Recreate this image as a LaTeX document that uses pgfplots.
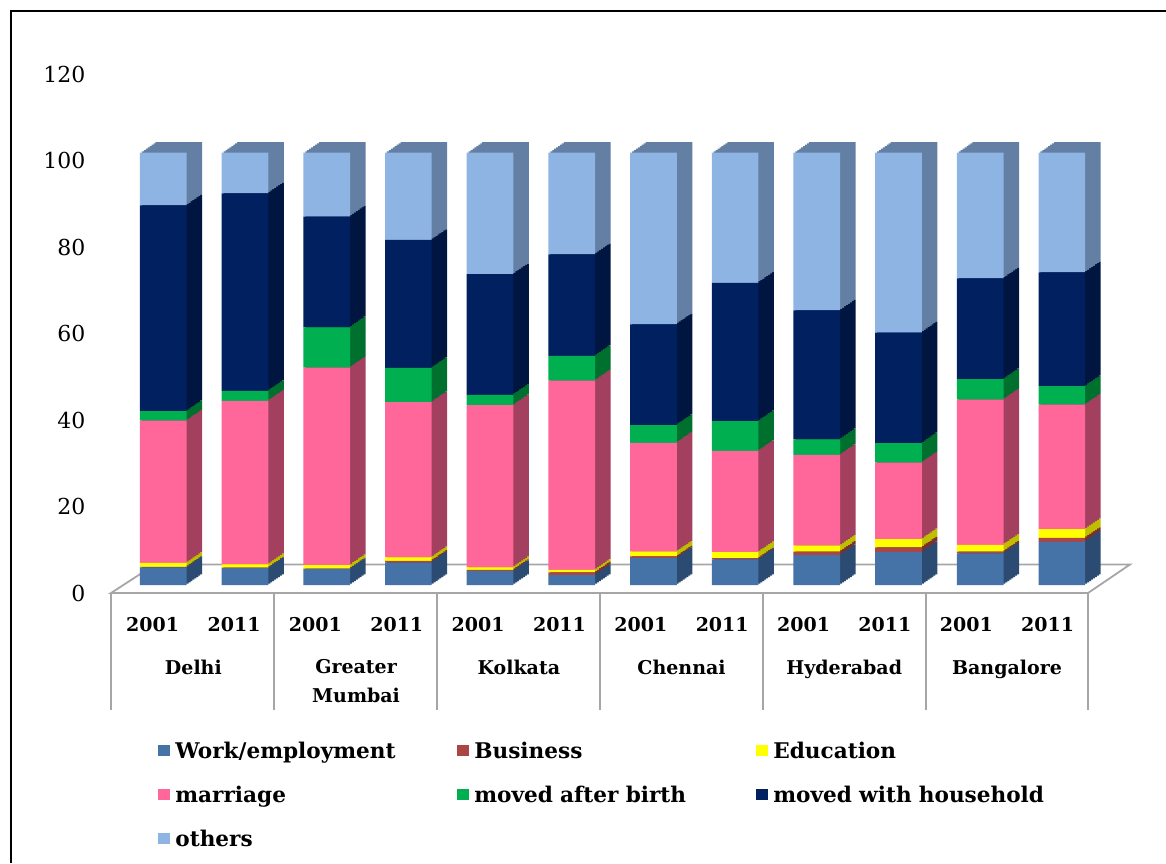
\documentclass[border=0pt]{standalone}
\usepackage{pgfplots}
\pgfplotsset{compat=1.18}
\usepackage{pgfplotstable}
\usepackage{fontspec}
\setmainfont{DejaVu Serif}

\definecolor{cWork}{HTML}{4572A7}
\definecolor{cBus}{HTML}{AA4643}
\definecolor{cEdu}{HTML}{FFFF00}
\definecolor{cMar}{HTML}{FF6699}
\definecolor{cBirth}{HTML}{00B050}
\definecolor{cHH}{HTML}{002060}
\definecolor{cOth}{HTML}{8DB4E2}
\definecolor{dWork}{HTML}{2C4B72}
\definecolor{dBus}{HTML}{7A302E}
\definecolor{dEdu}{HTML}{BFBF00}
\definecolor{dMar}{HTML}{A33F5F}
\definecolor{dBirth}{HTML}{00702F}
\definecolor{dHH}{HTML}{001540}
\definecolor{dOth}{HTML}{637FA3}
\definecolor{floorgray}{HTML}{A6A6A6}

% columns: work/employment, business, education, marriage, moved after birth, moved with household, others
\pgfplotstableread{
x   work  bus  edu  mar   birth  hh    oth
0   4.1   0.1  0.9  32.9  2.2    47.6  12.2
1   3.9   0.1  0.8  37.8  2.3    45.7  9.4
2   3.7   0.1  0.8  45.7  9.3    25.6  14.8
3   5.2   0.4  0.8  35.9  7.9    29.6  20.2
4   3.2   0.3  0.6  37.5  2.4    27.9  28.1
5   2.3   0.6  0.6  43.8  5.7    23.5  23.5
6   6.2   0.4  1.1  25.2  4.1    23.3  39.7
7   5.9   0.3  1.4  23.4  6.9    32.0  30.1
8   6.9   0.8  1.4  21.0  3.6    29.8  36.5
9   7.6   1.1  1.9  17.7  4.5    25.6  41.6
10  7.3   0.4  1.6  33.6  4.7    23.3  29.1
11  10.0  0.9  2.0  28.8  4.3    26.3  27.7
}\data

\pgfplotsset{
  base/.style={
    scale only axis, width=488pt, height=259.4pt,
    xmin=-0.628, xmax=11.32, ymin=0, ymax=120,
    enlargelimits=false,
    ybar stacked, bar width=23.35pt,
  }
}

\begin{document}
\begin{tikzpicture}
\useasboundingbox (0,0) rectangle (583pt,431.5pt);
\begin{scope}[x=0.5pt,y=-0.5pt,yshift=431.5pt]
  % frame
  \draw[line width=1.1pt] (11,863) -- (11,11) -- (1166,11);
  % floor
  \draw[floorgray, line width=0.9pt] (111,593) -- (1088,593) -- (1130,564.5) -- (155,564.5) -- cycle;
\end{scope}

% depth layers (side / top faces of the 3-D bars)
\foreach \k in {8,7,6,5,4,3,2,1} {
\begin{axis}[base, at={({56pt+0.96875pt*\k},{139pt+0.6625pt*\k})}, anchor=south west, hide axis]
\addplot[fill=dWork, draw=none] table[x=x,y=work]{\data};
\addplot[fill=dBus, draw=none] table[x=x,y=bus]{\data};
\addplot[fill=dEdu, draw=none] table[x=x,y=edu]{\data};
\addplot[fill=dMar, draw=none] table[x=x,y=mar]{\data};
\addplot[fill=dBirth, draw=none] table[x=x,y=birth]{\data};
\addplot[fill=dHH, draw=none] table[x=x,y=hh]{\data};
\addplot[fill=dOth, draw=none] table[x=x,y=oth]{\data};
\end{axis}
}

% front faces
\begin{axis}[base, at={(56pt,139pt)}, anchor=south west,
  axis line style={draw=none}, tick style={draw=none},
  /pgf/number format/assume math mode=true,
  ytick={0,20,...,120},
  yticklabel style={font=\fontsize{11}{13}\selectfont, xshift=-9.8pt, yshift=-4pt},
  xtick={-0.13,0.866,1.862,2.858,3.854,4.85,5.846,6.842,7.838,8.834,9.83,10.826},
  xticklabels={2001,2011,2001,2011,2001,2011,2001,2011,2001,2011,2001,2011},
  xticklabel style={font=\bfseries\fontsize{9.5}{14.5}\selectfont, anchor=base, yshift=-23pt},
  extra x ticks={0.368,2.36,4.352,6.344,8.336,10.328},
  extra x tick labels={Delhi,{Greater\\Mumbai},Kolkata,Chennai,Hyderabad,Bangalore},
  extra x tick style={xticklabel style={anchor=north, align=center, yshift=-10.8pt}},
  legend columns=3,
  legend cell align=left,
  legend image code/.code={\fill[#1] (0pt,-1.6pt) rectangle (5.6pt,4.0pt);},
  legend style={at={(axis description cs:0.0471,-0.3026)}, anchor=north west,
    draw=none, fill=none, inner sep=0pt,
    font=\bfseries\fontsize{10.8}{13}\selectfont,
    nodes={text width=141pt, inner xsep=0pt, inner ysep=0pt, text height=8pt, text depth=2.5pt},
    /tikz/every odd column/.append style={column sep=2.9pt},
    /tikz/every even column/.append style={column sep=0pt},
    row sep=11.5pt},
]
\addplot[fill=cWork, draw=none] table[x=x,y=work]{\data};
\addplot[fill=cBus, draw=none] table[x=x,y=bus]{\data};
\addplot[fill=cEdu, draw=none] table[x=x,y=edu]{\data};
\addplot[fill=cMar, draw=none] table[x=x,y=mar]{\data};
\addplot[fill=cBirth, draw=none] table[x=x,y=birth]{\data};
\addplot[fill=cHH, draw=none] table[x=x,y=hh]{\data};
\addplot[fill=cOth, draw=none] table[x=x,y=oth]{\data};
\legend{Work/employment,Business,Education,marriage,moved after birth,moved with household,others}
\end{axis}

\begin{scope}[x=0.5pt,y=-0.5pt,yshift=431.5pt]
  \foreach \xx in {111,274,437,600,763,926,1088}
    \draw[floorgray, line width=0.9pt] (\xx,593) -- (\xx,710);
\end{scope}
\end{tikzpicture}
\end{document}
